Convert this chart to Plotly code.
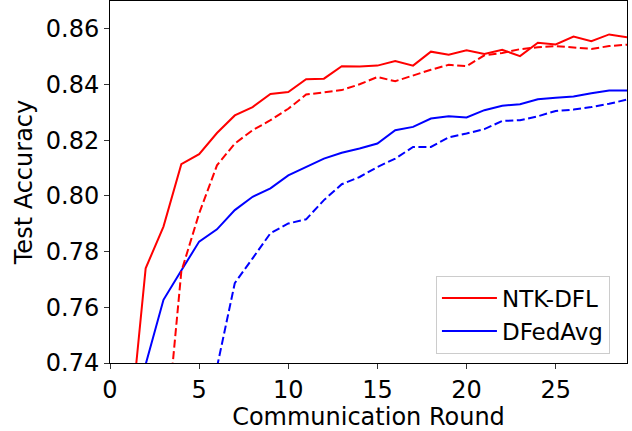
import plotly.graph_objects as go

# Test accuracy per communication round
ntk_rounds = list(range(1, 30))
ntk_solid = [0.709, 0.774, 0.789, 0.8114, 0.815, 0.8226, 0.8289, 0.8319, 0.8366, 0.8373,
             0.8419, 0.8421, 0.8466, 0.8465, 0.8468, 0.8484, 0.8468, 0.8518, 0.8507, 0.8523,
             0.851, 0.8525, 0.8502, 0.855, 0.8544, 0.8572, 0.8556, 0.858, 0.857]

ntk_dash_rounds = list(range(3, 30))
ntk_dashed = [0.7044, 0.7728, 0.7937, 0.811, 0.8188, 0.8236, 0.8272, 0.8313, 0.8364, 0.8373,
              0.838, 0.8401, 0.8427, 0.8412, 0.8433, 0.8453, 0.8471, 0.8466, 0.8505, 0.8513,
              0.8527, 0.8534, 0.8538, 0.8534, 0.8528, 0.8538, 0.8543]

dfa_rounds = list(range(2, 30))
dfa_solid = [0.7395, 0.7627, 0.7732, 0.7836, 0.788, 0.7949, 0.7997, 0.8027, 0.8074, 0.8104,
             0.8134, 0.8155, 0.817, 0.8188, 0.8236, 0.8248, 0.8278, 0.8286, 0.8282, 0.8308,
             0.8324, 0.8329, 0.8347, 0.8353, 0.8357, 0.8369, 0.8379, 0.8379]

dfa_dash_rounds = list(range(6, 30))
dfa_dashed = [0.7385, 0.7687, 0.7776, 0.7866, 0.7901, 0.7916, 0.7985, 0.8042, 0.8068, 0.8104,
              0.8134, 0.8176, 0.8176, 0.821, 0.8224, 0.824, 0.8269, 0.8272, 0.8286, 0.8305,
              0.831, 0.8319, 0.8331, 0.8346]

x_ticks = [0, 5, 10, 15, 20, 25]
y_ticks = [0.74, 0.76, 0.78, 0.80, 0.82, 0.84, 0.86]

RED = "#ff0000"
BLUE = "#0000ff"
FONT = "DejaVu Sans"
FS = 24

fig = go.Figure()
fig.add_trace(go.Scatter(x=ntk_rounds, y=ntk_solid, mode="lines", name="NTK-DFL",
                         line=dict(color=RED, width=2)))
fig.add_trace(go.Scatter(x=dfa_rounds, y=dfa_solid, mode="lines", name="DFedAvg",
                         line=dict(color=BLUE, width=2)))
fig.add_trace(go.Scatter(x=ntk_dash_rounds, y=ntk_dashed, mode="lines", showlegend=False,
                         line=dict(color=RED, width=2, dash="8px,3.5px")))
fig.add_trace(go.Scatter(x=dfa_dash_rounds, y=dfa_dashed, mode="lines", showlegend=False,
                         line=dict(color=BLUE, width=2, dash="8px,3.5px")))

axis_common = dict(showline=True, linecolor="black", linewidth=1, mirror=True,
                   ticks="outside", ticklen=5, tickwidth=1, tickcolor="#333333",
                   showgrid=False, zeroline=False,
                   tickfont=dict(family=FONT, size=FS, color="black"))

fig.update_xaxes(range=[0, 29], tickvals=x_ticks,
                 title=dict(text="Communication Round", font=dict(family=FONT, size=FS, color="black"), standoff=1),
                 **axis_common)
fig.update_yaxes(range=[0.74, 0.87], tickvals=y_ticks, tickformat=".2f",
                 title=dict(text="Test Accuracy", font=dict(family=FONT, size=FS, color="black"), standoff=6),
                 **axis_common)

fig.update_layout(
    width=632, height=431,
    margin=dict(l=110, r=5, t=1, b=68),
    plot_bgcolor="white", paper_bgcolor="white",
    font=dict(family=FONT, color="black"),
    legend=dict(x=0.967, y=0.026, xanchor="right", yanchor="bottom",
                bgcolor="rgba(255,255,255,0.8)", bordercolor="#cccccc", borderwidth=1,
                font=dict(family=FONT, size=FS - 1, color="black"),
                itemwidth=55, tracegroupgap=0),
)

fig.write_html("out.html")
